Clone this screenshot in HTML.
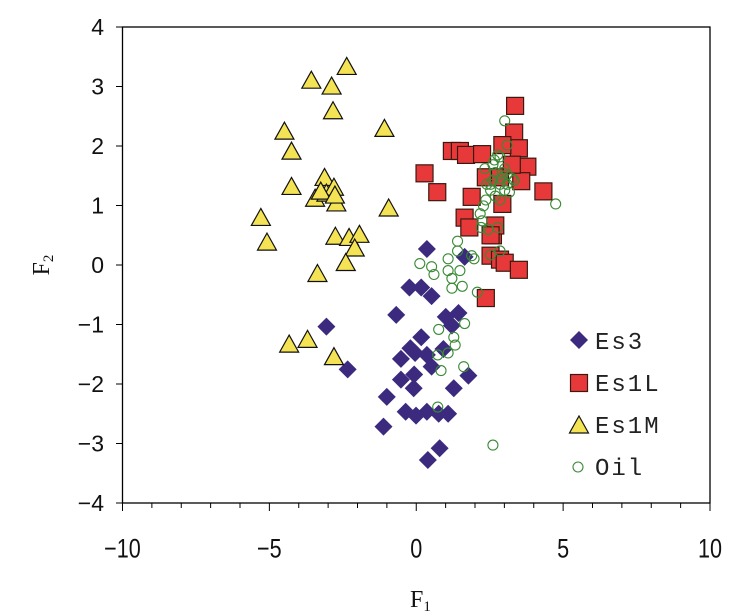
<!DOCTYPE html>
<html><head><meta charset="utf-8"><style>
html,body{margin:0;padding:0;background:#fff;}
svg{display:block;}
</style></head><body>
<svg id="s" width="737" height="614" xmlns="http://www.w3.org/2000/svg">
<rect x="122.5" y="27" width="587.5" height="476" fill="none" stroke="#000" stroke-width="1.3"/>
<g id="ax"></g>
<g id="pts"></g>
<g fill="#111">
<text x="42" y="272" style="font-family:'Liberation Serif',serif;font-size:24px" transform="rotate(-90 42 265)" text-anchor="middle">F<tspan style="font-size:15px" dy="4">2</tspan></text>
<text x="410" y="607" style="font-family:'Liberation Serif',serif;font-size:24px">F<tspan style="font-size:15px" dy="4">1</tspan></text>
</g>
<g fill="#222" style="font-family:'Liberation Mono',monospace;font-size:24px;letter-spacing:2px">
<text x="595" y="349">Es3</text>
<text x="595" y="391">Es1L</text>
<text x="595" y="433">Es1M</text>
<text x="595" y="475">Oil</text>
</g>
</svg>
<script>
var NS="http://www.w3.org/2000/svg";
function el(t,a,p){var e=document.createElementNS(NS,t);for(var k in a)e.setAttribute(k,a[k]);(p||document.getElementById('pts')).appendChild(e);return e;}
var ax=document.getElementById('ax');
function X(u){return 122.5+(u+10)*29.375;}
function Y(v){return 265-v*59.5;}
var tf="font-family:'Liberation Sans',sans-serif;";
for(var i=-10;i<=10;i++){el('line',{x1:X(i),x2:X(i),y1:503,y2:i%5==0?511:508,stroke:'#000','stroke-width':1},ax);}
for(var i=-10;i<=10;i+=5){var t=el('text',{x:X(i),y:557,'text-anchor':'middle',style:tf+'font-size:24px',fill:'#111',transform:'translate('+X(i)+' 0) scale(0.9 1.1) translate('+(-X(i))+' '+(-50)+')'},ax);t.textContent=(i<0?'\u2212':'')+Math.abs(i);}
for(var j=-4;j<=4;j++){el('line',{x1:116,x2:122.5,y1:Y(j),y2:Y(j),stroke:'#000','stroke-width':1},ax);var t=el('text',{x:104,y:Y(j)+8,'text-anchor':'end',style:tf+'font-size:23px',fill:'#111'},ax);t.textContent=(j<0?'\u2212':'')+Math.abs(j);}
function cx(z){return z/2.12;} function cy(z){return z/2.55;}
var tri=[[735,172],[660,207],[703,222],[706,285],[603,337],[815,330],[618,388],[688,455],[618,478],[668,508],[692,495],[708,480],[713,520],[553,557],[566,620],[711,605],[740,608],[762,600],[752,635],[733,672],[824,533],[673,700],[613,880],[652,868],[708,912],[680,490],[710,500]];
var dia=[[905,635],[868,733],[893,733],[915,755],[840,803],[945,808],[972,798],[958,830],[692,833],[893,860],[870,888],[850,915],[880,900],[905,905],[915,935],[940,890],[737,942],[850,968],[878,955],[877,990],[820,1012],[962,990],[993,958],[860,1050],[882,1060],[905,1050],[930,1055],[813,1088],[932,1143],[907,1173],[950,1055],[985,655]];
var sq=[[1092,270],[1090,338],[1100,378],[1065,370],[958,385],[975,385],[988,395],[1022,393],[900,442],[927,490],[1000,502],[1065,520],[1118,425],[1105,462],[1152,488],[1030,452],[1060,452],[1085,420],[985,555],[995,580],[1045,600],[1050,575],[1040,652],[1060,662],[1070,670],[1100,688],[1030,760],[1040,600]];
var cir=[[1070,308],[1060,400],[1075,370],[1178,520],[1025,525],[1018,545],[1022,563],[1020,580],[1035,585],[1055,580],[1030,510],[1040,485],[1028,430],[1045,420],[1080,490],[1060,470],[1090,460],[1065,440],[970,615],[970,640],[950,660],[890,672],[915,680],[920,700],[950,690],[958,710],[975,690],[980,730],[958,735],[1005,660],[1012,745],[985,825],[930,840],[962,860],[965,880],[950,900],[928,905],[935,945],[983,935],[928,1038],[1045,1135],[1040,650],[1060,640],[1000,652],[1048,408],[1055,395],[1070,430],[1075,470],[1085,455],[1040,470],[1050,500],[1060,510],[1070,485],[1032,470],[1050,440],[1062,455],[1045,460],[1075,445]];
function D(x,y){el('polygon',{points:(x)+','+(y-9)+' '+(x+9)+','+y+' '+x+','+(y+9)+' '+(x-9)+','+y,fill:'#3b2a7e'});}
function S(x,y){el('rect',{x:x-8.5,y:y-8.5,width:17,height:17,fill:'#e8393a',stroke:'#3a1a10','stroke-width':1.2});}
function T(x,y){el('polygon',{points:x+','+(y-10)+' '+(x+9.5)+','+(y+7)+' '+(x-9.5)+','+(y+7),fill:'#f4e354',stroke:'#111','stroke-width':1.2});}
function C(x,y){el('circle',{cx:x,cy:y,r:5,fill:'none',stroke:'#3a8a35','stroke-width':1.1});}
sq.forEach(function(p){S(cx(p[0]),cy(p[1]));});
dia.forEach(function(p){D(cx(p[0]),cy(p[1]));});
tri.forEach(function(p){T(cx(p[0]),cy(p[1]));});
cir.forEach(function(p){C(cx(p[0]),cy(p[1]));});
D(579,340);S(579,383);T(579,426);C(578,467);
</script>
</body></html>
